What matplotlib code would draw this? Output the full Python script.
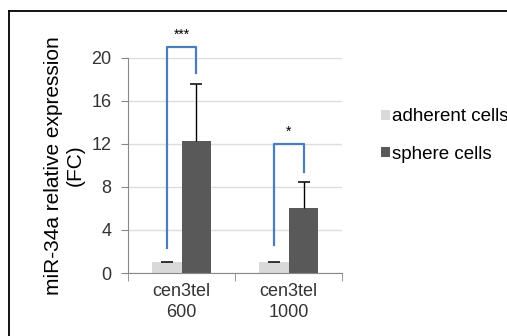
import matplotlib
matplotlib.use("Agg")
import matplotlib.pyplot as plt
from matplotlib.lines import Line2D
import numpy as np

# -------------------------
# Data
# -------------------------
groups = ["cen3tel\n600", "cen3tel\n1000"]
series = ["adherent cells", "sphere cells"]
adherent = [1.0, 1.0]
adherent_err = [0.05, 0.04]
sphere = [12.25, 6.05]
sphere_err = [5.35, 2.4]

# significance brackets: (group, left bottom, top, right bottom, label)
brackets = [
    (0, 2.3, 21.05, 18.6, "***"),
    (1, 2.6, 12.0, 9.4, "*"),
]

yticks = [0, 4, 8, 12, 16, 20]

# -------------------------
# Plot
# -------------------------
plt.rcParams["font.family"] = ["Liberation Sans", "DejaVu Sans"]

fig = plt.figure(figsize=(5.07, 3.36), dpi=100)
ax = fig.add_axes([0.2525, 0.1875, 0.4221, 0.6399])

x = np.arange(len(groups))
w = 0.28
c_adh = "#d9d9d9"
c_sph = "#595959"
c_br = "#4a7ebb"

ax.bar(x - w / 2, adherent, w, color=c_adh, label=series[0], zorder=2)
ax.bar(x + w / 2, sphere, w, color=c_sph, label=series[1], zorder=2)

# upper-only error bars (stem + cap on top)
for xs, vals, errs in [(x - w / 2, adherent, adherent_err),
                       (x + w / 2, sphere, sphere_err)]:
    tops = np.array(vals) + np.array(errs)
    ax.vlines(xs, vals, tops, color="black", lw=1, zorder=3)
    ax.plot(xs, tops, ls="none", marker="_", markersize=9,
            markeredgewidth=1.1, color="black", zorder=3)

for g, lb, top, rb, lab in brackets:
    xl, xr = g - w / 2, g + w / 2
    ax.plot([xl, xl, xr, xr], [lb, top, top, rb], color=c_br, lw=1.6,
            clip_on=False, zorder=4)
    ax.text(g, top + 0.5, lab, ha="center", va="bottom", fontsize=10,
            clip_on=False)

ax.set_xlim(-0.5, 1.5)
ax.set_ylim(0, 20)
ax.set_yticks(yticks)
ax.set_yticklabels([str(t) for t in yticks], fontsize=13, color="#333333")
ax.set_xticks(x)
ax.set_xticklabels(groups, fontsize=13, color="#333333", linespacing=1.3)
ax.tick_params(axis="x", length=0, pad=7)
ax.set_xticks([-0.5, 0.5, 1.5], minor=True)
ax.tick_params(axis="x", which="minor", length=6, color="#888888", direction="out")
ax.tick_params(axis="y", length=5, color="#888888", direction="out", pad=7)

ax.grid(axis="y", color="#dddddd", lw=1, zorder=0)
ax.set_axisbelow(True)
for s in ["top", "right"]:
    ax.spines[s].set_visible(False)
for s in ["left", "bottom"]:
    ax.spines[s].set_color("#888888")

ax.set_ylabel("miR-34a relative expression\n(FC)", fontsize=15,
              linespacing=1.15, labelpad=5)

fig.legend(loc="upper left", bbox_to_anchor=(0.737, 0.70), frameon=False,
           fontsize=13.5, handlelength=0.45, handleheight=0.45,
           handletextpad=0.15, labelspacing=1.1, borderaxespad=0)

# frame around figure (cut at right and bottom edges)
fig.add_artist(Line2D([9 / 507, 1.0], [1 - 11 / 336] * 2, color="black", lw=1.3,
                      transform=fig.transFigure))
fig.add_artist(Line2D([9 / 507] * 2, [0.0, 1 - 11 / 336], color="black", lw=1.3,
                      transform=fig.transFigure))

fig.savefig("out.png", dpi=100)
